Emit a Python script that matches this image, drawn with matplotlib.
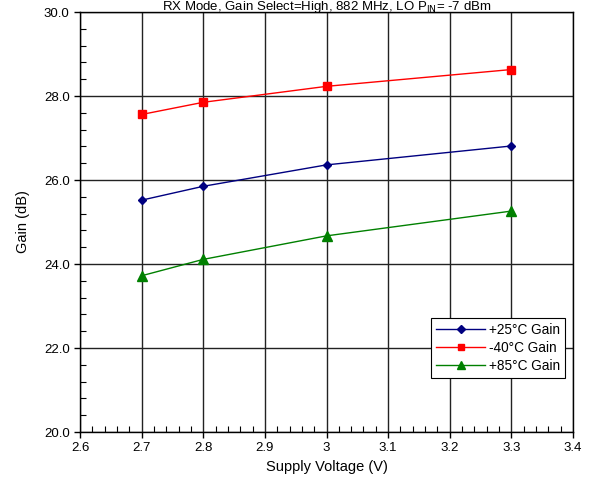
import matplotlib
matplotlib.use("Agg")
import matplotlib.pyplot as plt
from matplotlib.ticker import MultipleLocator, FormatStrFormatter, FuncFormatter

plt.rcParams['font.family'] = ['Liberation Sans', 'DejaVu Sans']

voltage = [2.7, 2.8, 3.0, 3.3]
gain_25 = [25.52, 25.85, 26.36, 26.81]
gain_m40 = [27.56, 27.85, 28.23, 28.63]
gain_85 = [23.72, 24.11, 24.67, 25.26]

labels = ['+25°C Gain', '-40°C Gain', '+85°C Gain']
x_ticks = [2.6, 2.7, 2.8, 2.9, 3.0, 3.1, 3.2, 3.3, 3.4]
y_ticks = [20, 22, 24, 26, 28, 30]

W, H = 593, 486
fig = plt.figure(figsize=(W / 100, H / 100), dpi=100)
ax = fig.add_axes([80 / W, (H - 432) / H, (573 - 80) / W, (432 - 12) / H])

ax.plot(voltage, gain_25, color='#000080', marker='D', markersize=4.5, lw=1, label=labels[0], zorder=3)
ax.plot(voltage, gain_m40, color='#FF0000', marker='s', markersize=6, lw=1, label=labels[1], zorder=3)
ax.plot(voltage, gain_85, color='#008000', marker='^', markersize=6.5, lw=1, label=labels[2], zorder=3)

ax.set_xlim(2.6, 3.4)
ax.set_ylim(20, 30)
ax.set_xticks(x_ticks)
ax.set_yticks(y_ticks)
ax.xaxis.set_major_formatter(FuncFormatter(lambda v, p: f"{v:g}"))
ax.yaxis.set_major_formatter(FormatStrFormatter('%.1f'))
ax.xaxis.set_minor_locator(MultipleLocator(0.02))
ax.yaxis.set_minor_locator(MultipleLocator(0.4))
ax.grid(True, which='major', color='#222222', lw=1)
ax.tick_params(which='major', direction='out', length=4, width=1, labelsize=9.5, colors='black')
ax.tick_params(which='minor', direction='in', length=4, width=0.8)
for s in ax.spines.values():
    s.set_linewidth(1)
    s.set_color('black')

ax.set_xlabel('Supply Voltage (V)', fontsize=10.5, labelpad=4)
ax.set_ylabel('Gain (dB)', fontsize=10.5, labelpad=10)

fig.text((80 + 573) / 2 / W, 1.0 + 1 / H, 'RX Mode, Gain Select=High, 882 MHz, LO P$_{\\mathrm{IN}}$= -7 dBm',
         ha='center', va='top', fontsize=9.5)

leg = ax.legend(loc='lower right', bbox_to_anchor=((565 - 80) / 493, (432 - 378) / 420),
                borderaxespad=0,
                fontsize=9.8, frameon=True, fancybox=False, edgecolor='black',
                framealpha=1, borderpad=0.35, labelspacing=0.3, handlelength=3.6,
                handletextpad=0.3, markerscale=0.8)
leg.get_frame().set_linewidth(0.8)

fig.savefig('out.png', dpi=100)
